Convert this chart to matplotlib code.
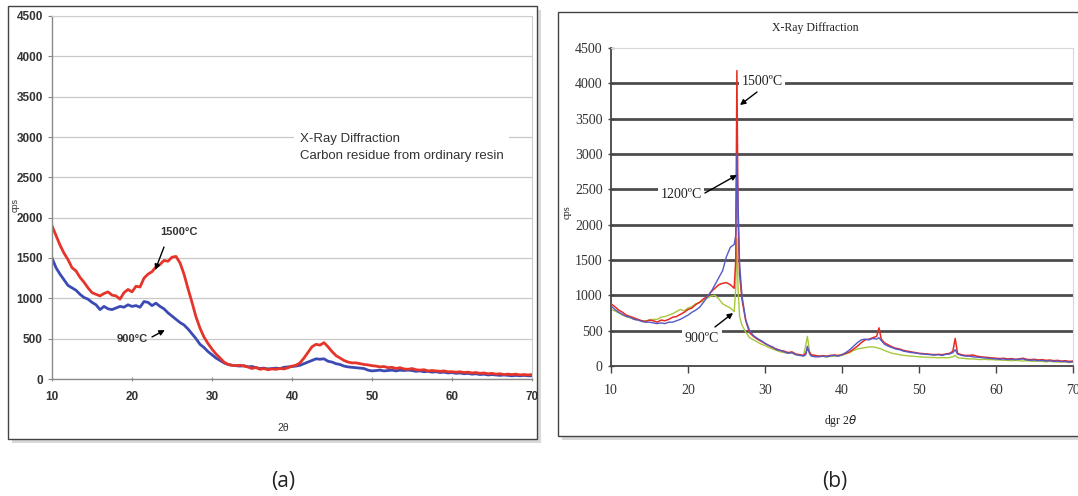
import numpy as np
import matplotlib
matplotlib.use("Agg")
import matplotlib.pyplot as plt
from matplotlib.patches import Rectangle

W, H = 1078, 496

# ---- panel (a): carbon residue from ordinary resin ----
A_X = np.arange(10, 70.01, 0.5)
A_1500 = [1900, 1780, 1660, 1560, 1480, 1380, 1340, 1260, 1200, 1130,
          1070, 1050, 1030, 1060, 1080, 1040, 1030, 990, 1070, 1110,
          1080, 1150, 1140, 1250, 1300, 1330, 1390, 1420, 1470, 1460,
          1510, 1520, 1440, 1300, 1120, 950, 770, 630, 520, 440,
          370, 310, 260, 210, 180, 170, 165, 170, 160, 150,
          130, 145, 120, 130, 115, 125, 120, 130, 125, 140,
          160, 170, 200, 260, 330, 400, 430, 420, 450, 400,
          340, 290, 260, 230, 210, 200, 200, 190, 180, 175,
          165, 160, 150, 155, 140, 145, 130, 140, 125, 120,
          130, 115, 110, 115, 100, 105, 100, 95, 100, 90,
          90, 85, 90, 80, 85, 75, 80, 70, 75, 65,
          70, 60, 65, 55, 60, 55, 60, 50, 55, 50,
          55]
A_900 = [1500, 1380, 1300, 1230, 1160, 1130, 1100, 1050, 1010, 990,
         950, 920, 860, 900, 870, 860, 880, 900, 890, 920,
         900, 910, 890, 960, 950, 910, 940, 900, 870, 820,
         780, 740, 700, 670, 620, 560, 500, 430, 390, 340,
         300, 260, 230, 200, 180, 170, 165, 160, 165, 150,
         155, 140, 130, 135, 125, 130, 135, 130, 145, 150,
         155, 160, 170, 190, 210, 230, 250, 245, 250, 220,
         210, 190, 180, 160, 150, 145, 140, 135, 130, 110,
         100, 105, 110, 100, 105, 110, 100, 110, 105, 110,
         105, 95, 100, 90, 95, 85, 90, 80, 85, 75,
         80, 70, 75, 65, 70, 60, 65, 55, 60, 50,
         55, 50, 45, 50, 45, 40, 45, 40, 45, 40,
         40]

# ---- panel (b): three firing temperatures ----
B_X = [10, 10.5, 11, 11.5, 12, 12.5, 13, 13.5, 14, 14.5,
       15, 15.5, 16, 16.5, 17, 17.5, 18, 18.5, 19, 19.5,
       20, 20.5, 21, 21.5, 22, 22.5, 23, 23.5, 24, 24.5,
       25, 25.5, 26, 26.2, 26.35, 26.5, 26.7, 27, 27.5, 28,
       28.5, 29, 29.5, 30, 30.5, 31, 31.5, 32, 32.5, 33,
       33.5, 34, 34.5, 35, 35.3, 35.5, 35.8, 36, 36.5, 37,
       37.5, 38, 38.5, 39, 39.5, 40, 40.5, 41, 41.5, 42,
       42.5, 43, 43.5, 44, 44.5, 44.8, 45.1, 45.5, 46, 46.5,
       47, 47.5, 48, 48.5, 49, 49.5, 50, 50.5, 51, 51.5,
       52, 52.5, 53, 53.5, 54, 54.4, 54.7, 55, 55.5, 56,
       56.5, 57, 57.5, 58, 58.5, 59, 59.5, 60, 60.5, 61,
       61.5, 62, 62.5, 63, 63.5, 64, 64.5, 65, 65.5, 66,
       66.5, 67, 67.5, 68, 68.5, 69, 69.5, 70]
B_1500 = [880, 840, 790, 760, 720, 700, 680, 660, 640, 630,
          650, 640, 620, 650, 640, 660, 690, 700, 730, 760,
          800, 820, 870, 900, 950, 980, 1050, 1100, 1150, 1170,
          1180, 1150, 1100, 1500, 4180, 2100, 1300, 950, 640, 470,
          420, 380, 350, 320, 290, 260, 240, 220, 210, 190,
          200, 170, 160, 150, 180, 250, 190, 160, 150, 140,
          145, 140, 150, 155, 150, 160, 180, 200, 240, 280,
          330, 370, 380, 400, 420, 540, 380, 330, 300, 270,
          250, 240, 220, 210, 200, 190, 180, 175, 170, 165,
          160, 165, 160, 170, 180, 210, 390, 180, 160, 150,
          150, 155, 140, 130, 125, 120, 115, 110, 105, 110,
          100, 105, 95, 100, 110, 95, 90, 95, 85, 90,
          80, 85, 75, 80, 70, 75, 65, 70]
B_1200 = [850, 800, 760, 730, 700, 690, 660, 650, 630, 620,
          620, 610, 600, 610, 600, 620, 620, 640, 660, 690,
          720, 760, 790, 830, 900, 980, 1050, 1150, 1250, 1350,
          1550, 1680, 1720, 1850, 3000, 2300, 1450, 1000, 650, 500,
          430, 390, 360, 320, 290, 270, 230, 220, 200, 180,
          190, 160, 150, 140, 160, 280, 170, 140, 130, 130,
          140, 130, 145, 150, 140, 160, 190, 230, 280, 330,
          370, 380, 370, 390, 380, 400, 360, 310, 280, 260,
          240, 230, 210, 200, 190, 185, 175, 170, 165, 160,
          155, 160, 150, 165, 170, 190, 230, 170, 150, 140,
          140, 130, 125, 120, 115, 110, 105, 100, 95, 100,
          90, 95, 90, 95, 100, 85, 80, 85, 75, 80,
          70, 75, 65, 70, 60, 65, 55, 60]
B_900 = [800, 780, 750, 720, 700, 680, 660, 650, 640, 640,
         650, 660, 660, 690, 700, 720, 740, 770, 800, 780,
         820, 840, 880, 900, 920, 960, 990, 1000, 950, 880,
         850, 820, 770, 1100, 1800, 1100, 700, 580, 480, 400,
         370, 340, 310, 290, 260, 240, 220, 200, 190, 180,
         180, 160, 150, 150, 300, 420, 200, 150, 140, 135,
         135, 130, 135, 140, 140, 150, 170, 190, 220, 240,
         250, 260, 270, 270, 260, 250, 240, 220, 200, 180,
         170, 160, 150, 145, 140, 135, 130, 125, 125, 120,
         120, 115, 120, 115, 120, 130, 150, 120, 110, 105,
         100, 100, 95, 90, 95, 90, 90, 85, 85, 80,
         80, 75, 80, 75, 70, 75, 70, 65, 70, 65,
         60, 65, 60, 55, 60, 55, 50, 55]

X_TICKS = [10, 20, 30, 40, 50, 60, 70]
Y_TICKS = [0, 500, 1000, 1500, 2000, 2500, 3000, 3500, 4000, 4500]

SANS = "Liberation Sans"
SERIF = "Liberation Serif"


def fx(px):
    return px / W


def fy(py):
    return 1 - py / H


def frame(fig, x0, y0, x1, y1):
    # drop shadow then the boxed frame, in pixel coords
    fig.add_artist(Rectangle((fx(x0 + 4), fy(y1 + 4)), fx(x1 - x0), (y1 - y0) / H,
                             transform=fig.transFigure, facecolor="#d8d8d8",
                             edgecolor="none", zorder=-3))
    fig.add_artist(Rectangle((fx(x0), fy(y1)), fx(x1 - x0), (y1 - y0) / H,
                             transform=fig.transFigure, facecolor="white",
                             edgecolor="#444444", linewidth=1.0, zorder=-2))


fig = plt.figure(figsize=(W / 100, H / 100), dpi=100)
frame(fig, 8, 6, 537, 439)
frame(fig, 558, 12, 1090, 436)

arrow_k = dict(arrowstyle="-|>", color="black", linewidth=1.0, mutation_scale=8,
               shrinkA=0, shrinkB=0)

# ---------------- panel (a) ----------------
ax = fig.add_axes([fx(52), fy(379), fx(480), 363 / H])
ax.set_xlim(10, 70)
ax.set_ylim(0, 4500)
ax.set_xticks(X_TICKS)
ax.set_yticks(Y_TICKS)
ax.yaxis.grid(True, color="#c8c8c8", linewidth=0.9)
ax.set_axisbelow(True)
for s in ["top", "right"]:
    ax.spines[s].set_color("#cfcfcf")
    ax.spines[s].set_linewidth(0.8)
for s in ["left", "bottom"]:
    ax.spines[s].set_color("#8a8a8a")
    ax.spines[s].set_linewidth(1.0)
ax.tick_params(axis="both", labelsize=8.5, colors="#8a8a8a", labelcolor="#333333",
               length=3, width=0.8)
ax.tick_params(axis="x", direction="inout", pad=7)
for lab in ax.get_xticklabels() + ax.get_yticklabels():
    lab.set_family(SANS)
    lab.set_fontweight("bold")

ax.plot(A_X, A_900, color="#3b4bb3", linewidth=2.0)
ax.plot(A_X, A_1500, color="#e5352b", linewidth=2.0)

fig.text(fx(15), fy(205), "cps", rotation=90, ha="center", va="center",
         family=SANS, fontsize=6.5, color="#333333")
fig.text(fx(283), fy(428), "2\u03b8", ha="center", va="center",
         family=SANS, fontsize=7.5, color="#333333")

ax.text(41.0, 2870, "X-Ray Diffraction\nCarbon residue from ordinary resin",
        ha="left", va="center", family=SANS, fontsize=9.5, color="#333333",
        linespacing=1.45,
        bbox=dict(facecolor="white", edgecolor="none", pad=4))

ax.text(25.9, 1822, "1500\u00b0C", ha="center", va="center", family=SANS,
        fontsize=8, fontweight="bold", color="#333333")
ax.annotate("", xy=(22.9, 1351), xytext=(24.0, 1636), arrowprops=arrow_k)
ax.text(20.0, 496, "900\u00b0C", ha="center", va="center", family=SANS,
        fontsize=8, fontweight="bold", color="#333333")
ax.annotate("", xy=(24.1, 607), xytext=(22.5, 521), arrowprops=arrow_k)

# ---------------- panel (b) ----------------
bx = fig.add_axes([fx(611), fy(366), fx(462), 318 / H])
bx.set_xlim(10, 70)
bx.set_ylim(0, 4500)
bx.set_xticks(X_TICKS)
bx.set_yticks(Y_TICKS)
for level in Y_TICKS[1:-1]:
    bx.axhline(level, color="#4d4d4d", linewidth=2.0, zorder=0.5)
for s in ["top", "right"]:
    bx.spines[s].set_color("#d8d8d8")
    bx.spines[s].set_linewidth(0.8)
for s in ["left", "bottom"]:
    bx.spines[s].set_color("#444444")
    bx.spines[s].set_linewidth(1.3)
bx.tick_params(axis="both", labelsize=10, colors="#444444", labelcolor="#333333",
               length=5, width=1.0)
bx.tick_params(axis="y", direction="inout")
bx.tick_params(axis="x", direction="out", pad=8)
for lab in bx.get_xticklabels() + bx.get_yticklabels():
    lab.set_family(SERIF)

bx.plot(B_X, B_900, color="#a8c83c", linewidth=1.0, zorder=2)
bx.plot(B_X, B_1500, color="#e52b22", linewidth=1.1, zorder=3)
bx.plot(B_X, B_1200, color="#5559c6", linewidth=1.0, zorder=4)

fig.text(fx(815), fy(28), "X-Ray Diffraction", ha="center", va="center",
         family=SERIF, fontsize=8.5, color="#222222")
fig.text(fx(841), fy(421), "dgr 2$\\theta$", ha="center", va="center",
         family=SERIF, fontsize=8.5, color="#222222")
fig.text(fx(567), fy(212), "cps", rotation=90, ha="center", va="center",
         family=SERIF, fontsize=7.5, color="#222222")

box_k = dict(facecolor="white", edgecolor="none", pad=2)
bx.text(29.6, 4019, "1500\u00baC", ha="center", va="center", family=SERIF,
        fontsize=10, color="#222222", bbox=box_k, zorder=5)
bx.annotate("", xy=(26.75, 3693), xytext=(28.96, 3877), arrowprops=arrow_k, zorder=6)
bx.text(19.1, 2420, "1200\u00baC", ha="center", va="center", family=SERIF,
        fontsize=10, color="#222222", bbox=box_k, zorder=5)
bx.annotate("", xy=(26.36, 2703), xytext=(22.2, 2448), arrowprops=arrow_k, zorder=6)
bx.text(21.8, 396, "900\u00baC", ha="center", va="center", family=SERIF,
        fontsize=10, color="#222222", bbox=box_k, zorder=5)
bx.annotate("", xy=(25.85, 750), xytext=(23.5, 552), arrowprops=arrow_k, zorder=6)

# captions
fig.text(fx(283), fy(482), "(a)", ha="center", va="center",
         family="Open Sans", fontsize=15, color="#222222")
fig.text(fx(835), fy(482), "(b)", ha="center", va="center",
         family="Open Sans", fontsize=15, color="#222222")

fig.savefig("out.png", dpi=100)
